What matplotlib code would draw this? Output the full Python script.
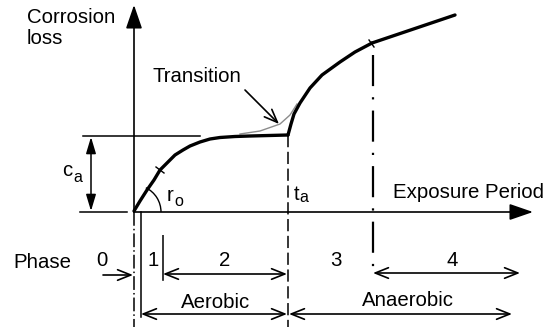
import matplotlib.pyplot as plt
from matplotlib.patches import Arc

plt.rcParams['font.family'] = ['Liberation Sans', 'DejaVu Sans']

# model curve (exposure time vs corrosion loss), schematic units
t_phase12 = [0, 6, 13, 20, 26, 34, 41, 49, 56, 66, 76, 86, 101, 116, 135, 154]
c_phase12 = [1, 11, 22, 32, 42, 50, 57, 62, 66, 70, 73, 74.5, 75.5, 76, 76.5, 77]
t_phase3 = [154, 157, 160, 166, 176, 188, 206, 221, 238]
c_phase3 = [77, 88, 98, 109, 124, 137, 150, 160, 169]
t_phase4 = [238, 321]
c_phase4 = [169, 197]
# smooth transition between aerobic and anaerobic behaviour
t_trans = [106, 126, 146, 156, 163]
c_trans = [78, 81, 88, 97, 108]

c_a = 76          # level of the plateau
t_a = 154         # onset of anaerobic phase
t_phase = [0, 7, 29, t_a, 239]   # phase boundaries
phase_labels = ['0', '1', '2', '3', '4']
phase_label_x = [-32, 19, 91, 202, 318]

fig = plt.figure(figsize=(5.43, 3.27), dpi=100)
ax = fig.add_axes([0, 0, 1, 1])
ax.set_xlim(-134, 409)
ax.set_ylim(-115, 212)
ax.axis('off')

k = 'black'
fs = 14.7
fs_sub = 11.5


def arrow(p0, p1, style, lw=1.1, **kw):
    ax.annotate('', xy=p1, xytext=p0,
                arrowprops=dict(arrowstyle=style, color=k, lw=lw,
                                shrinkA=0, shrinkB=0, mutation_scale=10, **kw))


open_single = '->,head_length=0.95,head_width=0.38'
open_double = '<->,head_length=0.95,head_width=0.38'
filled = '-|>,head_length=1.45,head_width=0.5'

# axes
arrow((0, 0), (0, 207), filled, lw=1.2)
arrow((0, 0), (399, 0), filled, lw=1.2)

# curve
ax.plot(t_trans, c_trans, color='#8c8c8c', lw=1.0)
ax.plot(t_phase12, c_phase12, color=k, lw=2.4, solid_capstyle='round')
ax.plot(t_phase3, c_phase3, color=k, lw=2.4, solid_capstyle='round')
ax.plot(t_phase4, c_phase4, color=k, lw=2.4, solid_capstyle='round')

# small marks on curve at phase changes
ax.plot([22, 30], [45, 39], color=k, lw=1.0)
ax.plot([235, 240], [172, 165], color=k, lw=1.0)

# c_a dimension
ax.plot([-54, -7], [0, 0], color=k, lw=1.1)
ax.plot([-51, 66], [c_a, c_a], color=k, lw=1.1)
arrow((-43, 1), (-43, c_a - 1), '<|-|>,head_length=1.0,head_width=0.3', lw=1.1)
ax.text(-72, 36, 'c', fontsize=fs, ha='left', va='baseline')
ax.text(-61, 30, 'a', fontsize=fs_sub, ha='left', va='baseline')

# r_o angle
ax.add_patch(Arc((0, 0), 54, 54, theta1=0, theta2=64, color=k, lw=1.0))
ax.text(33, 11, 'r', fontsize=fs, ha='left', va='baseline')
ax.text(40, 6, 'o', fontsize=fs_sub, ha='left', va='baseline')

# phase boundaries
ax.plot([t_phase[0]] * 2, [0, -115], color=k, lw=1.1, dashes=(9, 2, 1, 2))
ax.plot([t_phase[1]] * 2, [0, -105], color=k, lw=1.1)
ax.plot([t_phase[2]] * 2, [-23, -71], color=k, lw=1.1, dashes=(30, 2, 1, 2))
ax.plot([t_phase[3]] * 2, [c_a + 1, -115], color=k, lw=1.1, dashes=(8, 3))
ax.plot([t_phase[4]] * 2, [157, -65], color=k, lw=1.6, dashes=(14, 5, 1, 5))

ax.text(t_a + 6, 12, 't', fontsize=fs, ha='left', va='baseline')
ax.text(t_a + 11, 10, 'a', fontsize=fs_sub, ha='left', va='baseline')

# labels
ax.text(-107, 184, 'Corrosion\nloss', fontsize=fs, ha='left', va='center',
        linespacing=1.15)
ax.text(259, 20, 'Exposure Period', fontsize=fs, ha='left', va='center')
ax.text(63, 135, 'Transition', fontsize=fs, ha='center', va='center')
arrow((111, 122), (145, 88), open_single, lw=1.2)

ax.text(-121, -50, 'Phase', fontsize=fs, ha='left', va='center')
for x, lab in zip(phase_label_x, phase_labels):
    ax.text(x, -48, lab, fontsize=fs, ha='center', va='center')

arrow((-31, -63), (-1, -63), open_single, lw=1.2)
arrow((t_phase[2], -62), (t_a - 1, -62), open_double, lw=1.2)
arrow((t_phase[4], -61), (386, -61), open_double, lw=1.2)

ax.text(82, -90, 'Aerobic', fontsize=fs, ha='center', va='center')
ax.text(274, -88, 'Anaerobic', fontsize=fs, ha='center', va='center')
arrow((t_phase[1], -102), (t_a - 1, -102), open_double, lw=1.2)
arrow((t_a + 1, -102), (378, -102), open_double, lw=1.2)

fig.savefig('out.png', dpi=100)
